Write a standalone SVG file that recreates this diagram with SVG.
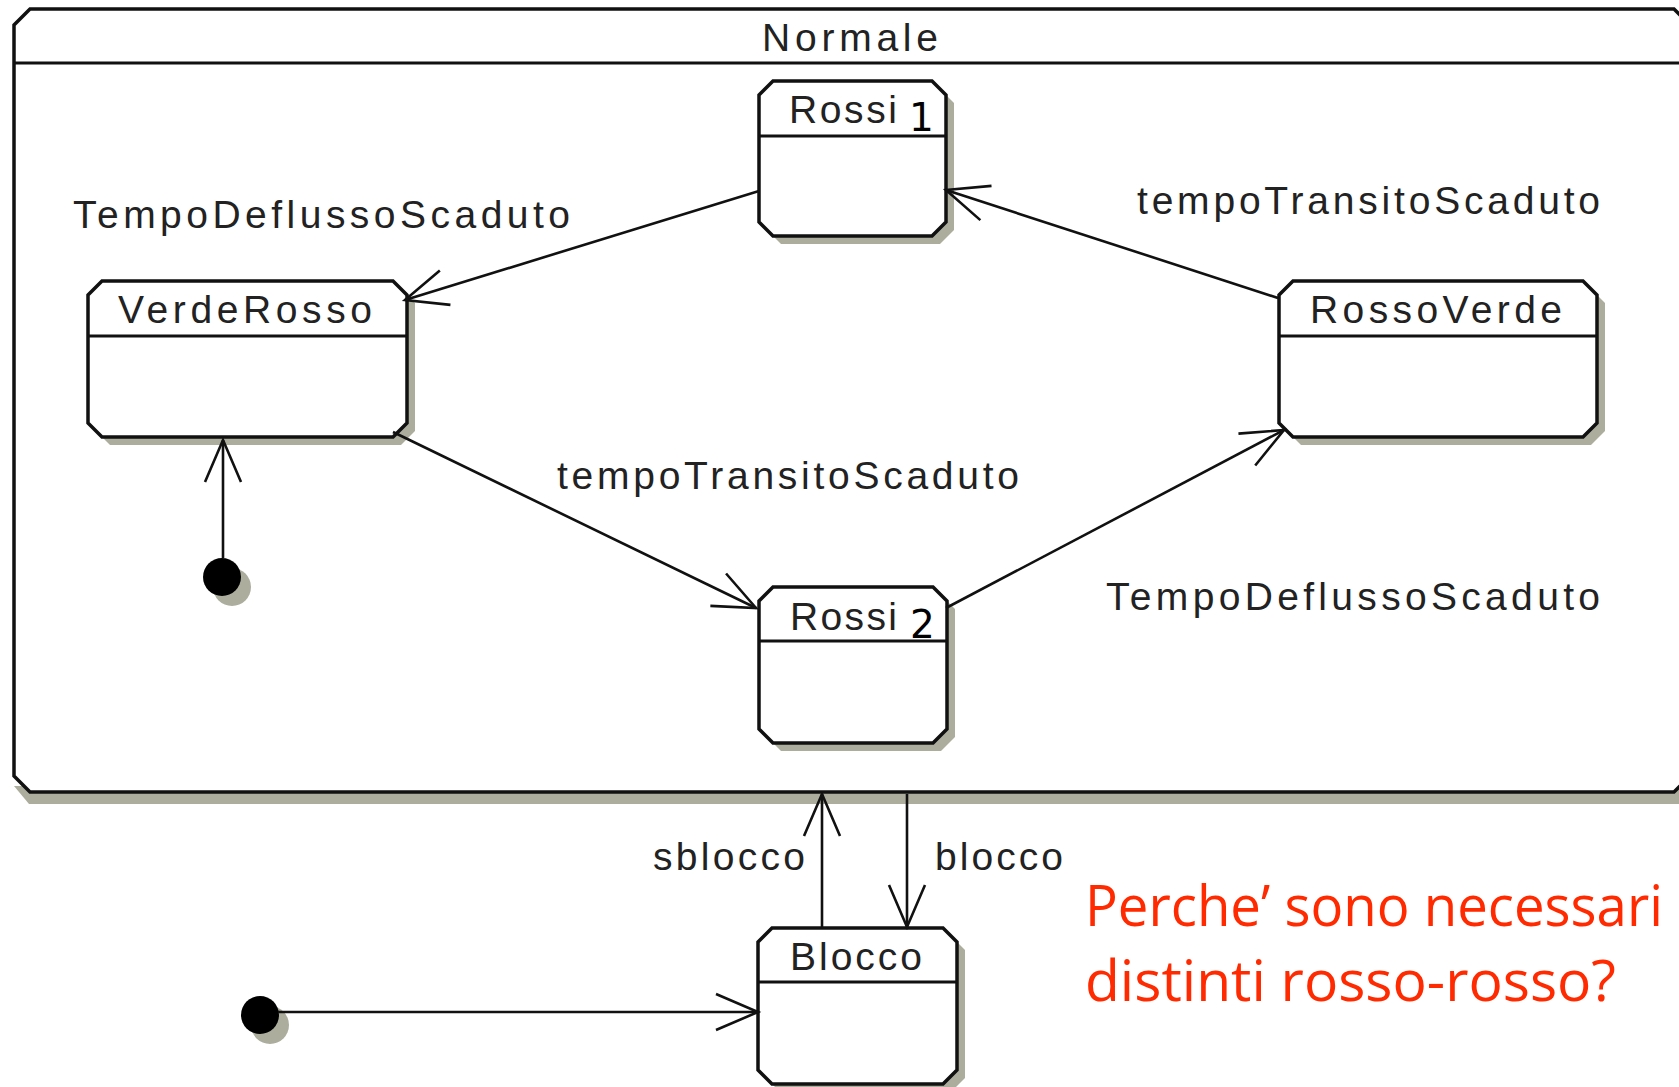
<svg xmlns="http://www.w3.org/2000/svg" width="1679" height="1087" viewBox="0 0 1679 1087">
<defs>
<style>
.bg{fill:#ffffff}
.shadow{fill:#adad9e;stroke:none}
.state{fill:#ffffff;stroke:#111;stroke-width:3.5}
.hdr{stroke:#111;stroke-width:3}
.lbl{font-family:"Liberation Sans",Arial,sans-serif;font-size:39px;fill:#222}
.num{font-family:"DejaVu Sans",sans-serif;font-size:39px;fill:#000}
.tr{fill:none;stroke:#111;stroke-width:2.6}
.red{font-family:"Open Sans","Liberation Sans",sans-serif;font-size:57px;fill:#ff2a00}
</style>
<marker id="open" markerUnits="userSpaceOnUse" orient="auto" refX="0" refY="0" markerWidth="50" markerHeight="50" overflow="visible">
<path d="M -42,-18 L 0,0 L -42,18" fill="none" stroke="#111" stroke-width="2.6"/>
</marker>
</defs>
<rect class="bg" x="0" y="0" width="1679" height="1087"/>

<g id="Normale">
<path class="shadow" d="M 29,804 L 14,786 H 1700 V 804 Z"/>
<path class="state" d="M 30,9 H 1674 L 1690,25 V 776 L 1674,792 H 30 L 14,776 V 25 Z"/>
<line class="hdr" x1="14" y1="63" x2="1690" y2="63"/>
<text class="lbl" x="762" y="51" textLength="176" lengthAdjust="spacing">Normale</text>
</g>

<g id="Rossi1">
<path class="shadow" d="M 781,89 H 940 L 954,103 V 230 L 940,244 H 781 L 767,230 V 103 Z"/>
<path class="state" d="M 773,81 H 932 L 946,95 V 222 L 932,236 H 773 L 759,222 V 95 Z"/>
<line class="hdr" x1="759" y1="136" x2="946" y2="136"/>
<text class="lbl" x="789" y="123" textLength="108" lengthAdjust="spacing">Rossi</text>
<text class="num" x="909" y="131">1</text>
</g>

<g id="VerdeRosso">
<path class="shadow" d="M 110,289 H 401 L 415,303 V 431 L 401,445 H 110 L 96,431 V 303 Z"/>
<path class="state" d="M 102,281 H 393 L 407,295 V 423 L 393,437 H 102 L 88,423 V 295 Z"/>
<line class="hdr" x1="88" y1="336" x2="407" y2="336"/>
<text class="lbl" x="118" y="323" textLength="254" lengthAdjust="spacing">VerdeRosso</text>
</g>

<g id="RossoVerde">
<path class="shadow" d="M 1301,289 H 1591 L 1605,303 V 431 L 1591,445 H 1301 L 1287,431 V 303 Z"/>
<path class="state" d="M 1293,281 H 1583 L 1597,295 V 423 L 1583,437 H 1293 L 1279,423 V 295 Z"/>
<line class="hdr" x1="1279" y1="336" x2="1597" y2="336"/>
<text class="lbl" x="1310" y="323" textLength="252" lengthAdjust="spacing">RossoVerde</text>
</g>

<g id="Rossi2">
<path class="shadow" d="M 781,595 H 941 L 955,609 V 737 L 941,751 H 781 L 767,737 V 609 Z"/>
<path class="state" d="M 773,587 H 933 L 947,601 V 729 L 933,743 H 773 L 759,729 V 601 Z"/>
<line class="hdr" x1="759" y1="641" x2="947" y2="641"/>
<text class="lbl" x="790" y="630" textLength="107" lengthAdjust="spacing">Rossi</text>
<text class="num" x="910" y="638">2</text>
</g>

<g id="Blocco">
<path class="shadow" d="M 780,936 H 951 L 965,950 V 1078 L 951,1092 H 780 L 766,1078 V 950 Z"/>
<path class="state" d="M 772,928 H 943 L 957,942 V 1070 L 943,1084 H 772 L 758,1070 V 942 Z"/>
<line class="hdr" x1="758" y1="982" x2="957" y2="982"/>
<text class="lbl" x="790" y="970" textLength="132" lengthAdjust="spacing">Blocco</text>
</g>

<g id="init1">
<circle class="shadow" cx="232" cy="587" r="19"/>
<circle cx="222" cy="577" r="19" fill="#000"/>
</g>

<g id="init2">
<circle class="shadow" cx="270" cy="1025" r="19"/>
<circle cx="260" cy="1015" r="19" fill="#000"/>
</g>

<g id="connectors">
<line class="tr" x1="759" y1="191" x2="405" y2="300" marker-end="url(#open)"/>
<line class="tr" x1="393" y1="432" x2="756" y2="608" marker-end="url(#open)"/>
<line class="tr" x1="946" y1="608" x2="1284" y2="430" marker-end="url(#open)"/>
<line class="tr" x1="1278" y1="298" x2="946" y2="190" marker-end="url(#open)"/>
<line class="tr" x1="223" y1="558" x2="223" y2="440" marker-end="url(#open)"/>
<line class="tr" x1="822" y1="928" x2="822" y2="794" marker-end="url(#open)"/>
<line class="tr" x1="907" y1="794" x2="907" y2="927" marker-end="url(#open)"/>
<line class="tr" x1="278" y1="1012" x2="758" y2="1012" marker-end="url(#open)"/>
</g>

<g id="labels">
<text class="lbl" x="73" y="228" textLength="497" lengthAdjust="spacing">TempoDeflussoScaduto</text>
<text class="lbl" x="1137" y="214" textLength="463" lengthAdjust="spacing">tempoTransitoScaduto</text>
<text class="lbl" x="557" y="489" textLength="462" lengthAdjust="spacing">tempoTransitoScaduto</text>
<text class="lbl" x="1106" y="610" textLength="494" lengthAdjust="spacing">TempoDeflussoScaduto</text>
<text class="lbl" x="653" y="870" textLength="152" lengthAdjust="spacing">sblocco</text>
<text class="lbl" x="935" y="870" textLength="128" lengthAdjust="spacing">blocco</text>
<text class="red" x="1085" y="926" textLength="578" lengthAdjust="spacingAndGlyphs">Perche’ sono necessari</text>
<text class="red" x="1085" y="1001">distinti rosso-rosso?</text>
</g>
</svg>
